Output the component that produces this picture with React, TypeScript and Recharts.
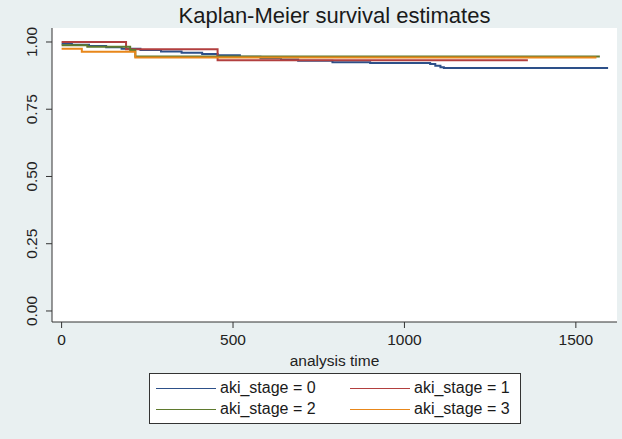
import type { ReactElement } from "react";
import { LineChart, Line, XAxis, YAxis, CartesianGrid } from "recharts";

const TITLE = "Kaplan-Meier survival estimates";
const X_LABEL = "analysis time";
const X_TICKS = [0, 500, 1000, 1500];
const Y_TICKS = [0, 0.25, 0.5, 0.75, 1];

const stage0Time = [0, 30, 80, 130, 175, 230, 290, 350, 410, 455, 520, 580, 640, 690, 790, 900, 1075, 1090, 1105, 1115, 1594];
const stage0Surv = [0.993, 0.99, 0.985, 0.98, 0.975, 0.97, 0.965, 0.96, 0.955, 0.951, 0.945, 0.94, 0.935, 0.93, 0.925, 0.922, 0.918, 0.912, 0.906, 0.903, 0.903];

const stage1Time = [0, 188, 455, 1360];
const stage1Surv = [1.0, 0.973, 0.932, 0.932];

const stage2Time = [0, 75, 200, 215, 1570];
const stage2Surv = [0.988, 0.982, 0.97, 0.946, 0.946];

const stage3Time = [0, 59, 215, 1560];
const stage3Surv = [0.975, 0.964, 0.942, 0.942];

const SERIES = [
    { name: "aki_stage = 0", color: "#2d5089", time: stage0Time, surv: stage0Surv },
    { name: "aki_stage = 1", color: "#b23f3f", time: stage1Time, surv: stage1Surv },
    { name: "aki_stage = 2", color: "#5f7a2e", time: stage2Time, surv: stage2Surv },
    { name: "aki_stage = 3", color: "#e8871a", time: stage3Time, surv: stage3Surv },
];

const FONT = '"Liberation Sans", Arial, sans-serif';
const AXIS = "#333333";

function YTick({ y, payload }: any): ReactElement {
    return (
        <text
            x={32}
            y={y}
            transform={`rotate(-90 32 ${y})`}
            textAnchor="middle"
            dominantBaseline="central"
            fontSize={15.5}
            fontFamily={FONT}
            fill="#222"
        >
            {Number(payload.value).toFixed(2)}
        </text>
    );
}

export default function App(): ReactElement {
    return (
        <div style={{ position: "relative", width: 622, height: 439, background: "#e9f0f1", fontFamily: FONT, overflow: "hidden" }}>
            <style>{`body{margin:0}`}</style>
            <div style={{ position: "absolute", left: 52, width: 565, top: 3, textAlign: "center", fontSize: 22, color: "#1a1a1a", lineHeight: "26px" }}>
                {TITLE}
            </div>
            <LineChart width={622} height={439} margin={{ top: 28, right: 5, left: 0, bottom: 77 }}>
                <CartesianGrid horizontal={false} vertical={false} fill="#ffffff" fillOpacity={1} />
                <XAxis
                    type="number"
                    dataKey="t"
                    domain={[-28, 1620]}
                    ticks={X_TICKS}
                    allowDataOverflow
                    height={40}
                    stroke={AXIS}
                    tickSize={6}
                    tickMargin={6}
                    tick={{ fontSize: 15.5, fill: "#222", fontFamily: FONT }}
                    label={{ value: X_LABEL, position: "insideBottom", offset: -4, fontSize: 15.5, fill: "#222", fontFamily: FONT }}
                />
                <YAxis
                    type="number"
                    domain={[-0.041, 1.052]}
                    ticks={Y_TICKS}
                    allowDataOverflow
                    width={52}
                    stroke={AXIS}
                    tickSize={6}
                    tick={<YTick />}
                />
                {SERIES.map((s) => (
                    <Line
                        key={s.name}
                        name={s.name}
                        data={s.time.map((t, i) => ({ t, s: s.surv[i] }))}
                        dataKey="s"
                        type="stepAfter"
                        stroke={s.color}
                        strokeWidth={2}
                        dot={false}
                        activeDot={false}
                        isAnimationActive={false}
                    />
                ))}
            </LineChart>
            <div
                style={{
                    position: "absolute",
                    left: 149,
                    top: 373,
                    width: 370,
                    height: 49,
                    border: "1px solid #333",
                    background: "#ffffff",
                    display: "grid",
                    gridTemplateColumns: "194px 176px",
                    alignContent: "center",
                    rowGap: 3,
                    fontSize: 16,
                    color: "#1a1a1a",
                }}
            >
                {SERIES.map((s) => (
                    <div key={s.name} style={{ display: "flex", alignItems: "center", height: 18 }}>
                        <span style={{ display: "inline-block", width: 60, height: 0, borderTop: `1.5px solid ${s.color}`, marginLeft: 6, marginRight: 4 }} />
                        <span>{s.name}</span>
                    </div>
                ))}
            </div>
        </div>
    );
}
